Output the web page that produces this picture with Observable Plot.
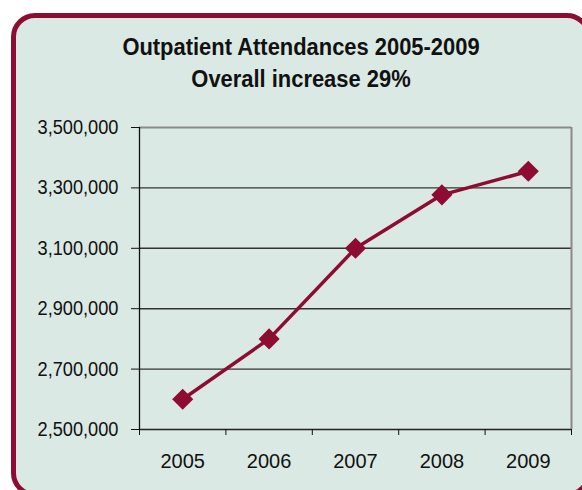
<!DOCTYPE html>
<html>
<head>
<meta charset="utf-8">
<script src="https://cdn.jsdelivr.net/npm/d3@7"></script>
<script src="https://cdn.jsdelivr.net/npm/@observablehq/plot@0.6"></script>
<style>
  html, body { margin: 0; padding: 0; background: #ffffff; overflow: hidden; }
  #wrap { position: relative; width: 582px; height: 490px; overflow: hidden; }
  #frame { position: absolute; left: 11px; top: 13px; width: 570px; height: 474px;
    border: 5px solid #8e0b32; border-radius: 24px; background: #dae9e3; }
  #title { position: absolute; left: 11px; top: 31px; width: 580px; text-align: center;
    font-family: "Liberation Sans", Arial, sans-serif;
    font-weight: bold; font-size: 23px; line-height: 32px; color: #111;
    transform-origin: 290px 0; }
  #chart { position: absolute; left: 0; top: 100px; }
</style>
</head>
<body>
<div id="wrap">
  <div id="frame"></div>
  <div id="title">Outpatient Attendances 2005-2009<br>Overall increase 29%</div>
  <div id="chart"></div>
</div>
<script>
const years = [2005, 2006, 2007, 2008, 2009];
const attendances = [2600000, 2800000, 3100000, 3277000, 3355000];
const yTicks = [2500000, 2700000, 2900000, 3100000, 3300000, 3500000];

const data = years.map((y, i) => ({year: y, value: attendances[i]}));
const boundaries = [2004.5, 2005.5, 2006.5, 2007.5, 2008.5, 2009.5];
const fmt = d3.format(",");

// narrow the title to mimic a condensed face
(function () {
  const c = document.createElement("canvas").getContext("2d");
  c.font = "bold 23px 'Liberation Sans'";
  const w = c.measureText("Outpatient Attendances 2005-2009").width;
  document.getElementById("title").style.transform = `scaleX(${358 / w})`;
})();

const plot = Plot.plot({
  width: 582,
  height: 370,
  marginTop: 27,
  marginBottom: 41,
  marginLeft: 139,
  marginRight: 11,
  style: {background: "transparent", overflow: "visible"},
  x: {type: "linear", domain: [2004.5, 2009.5]},
  y: {domain: [2500000, 3500000]},
  marks: [
    Plot.ruleY(yTicks.filter(d => d > 2500000 && d < 3500000), {stroke: "#333", strokeWidth: 1.4}),
    Plot.ruleY([3500000], {stroke: "#8a8a8a", strokeWidth: 2}),
    Plot.ruleX([2009.5], {stroke: "#8a8a8a", strokeWidth: 2}),
    Plot.axisY({ticks: yTicks, tickFormat: fmt, tickSize: 8, tickPadding: 13, label: null,
      stroke: "#111", fill: "#111", fontSize: 20, className: "yax",
      fontFamily: "'Liberation Sans', Arial, sans-serif"}),
    Plot.ruleX([2004.5], {stroke: "#111", strokeWidth: 1.3}),
    Plot.ruleY([2500000], {x1: 2004.5, x2: 2009.5, stroke: "#222", strokeWidth: 1.5}),
    Plot.axisX({ticks: boundaries, tickFormat: () => "", tickSize: 6, label: null, stroke: "#111"}),
    Plot.axisX({ticks: years, tickFormat: d => String(d), tickSize: 0, tickPadding: 24, label: null,
      fill: "#111", fontSize: 20, fontFamily: "'Liberation Sans', Arial, sans-serif"}),
    Plot.line(data, {x: "year", y: "value", stroke: "#8e0b32", strokeWidth: 3.5}),
    Plot.dot(data, {x: "year", y: "value", symbol: "diamond2", r: 9.5, fill: "#8e0b32", stroke: "none"})
  ]
});
// condense the y tick labels
plot.querySelectorAll(".yax text").forEach(t => {
  t.setAttribute("textLength", 81);
  t.setAttribute("lengthAdjust", "spacingAndGlyphs");
});
document.getElementById("chart").appendChild(plot);
</script>
</body>
</html>
